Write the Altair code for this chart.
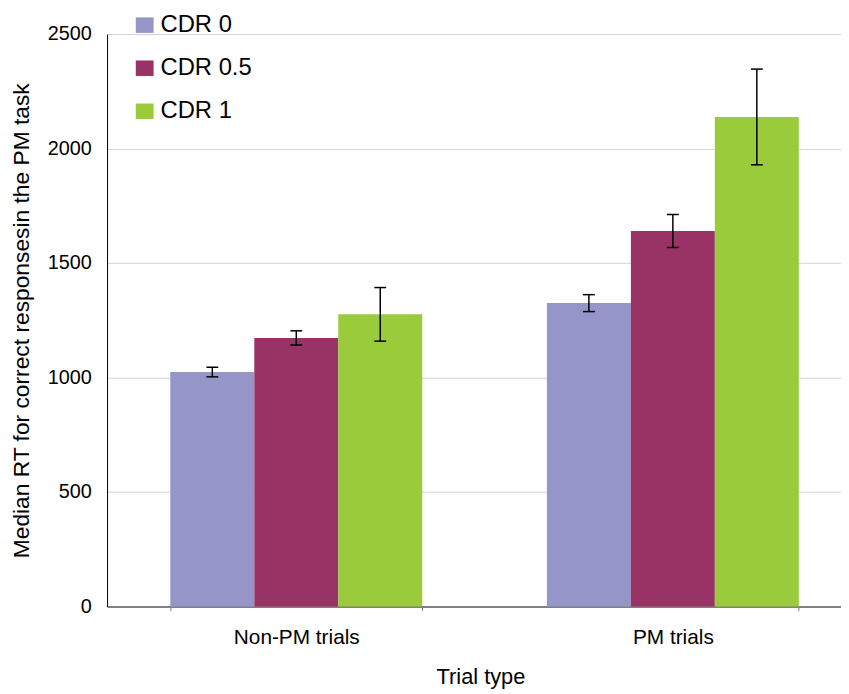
import altair as alt
import pandas as pd

trial_types = ["Non-PM trials", "PM trials"]
groups = ["CDR 0", "CDR 0.5", "CDR 1"]
nonpm_means = [1024, 1173, 1276]
nonpm_errors = [21, 31, 117]
pm_means = [1325, 1640, 2138]
pm_errors = [37, 72, 209]
colors = ["#9595c8", "#993366", "#99cb3b"]
y_ticks = [0, 500, 1000, 1500, 2000, 2500]

rows = []
for t, means, errs in [(trial_types[0], nonpm_means, nonpm_errors),
                       (trial_types[1], pm_means, pm_errors)]:
    for g, m, e in zip(groups, means, errs):
        rows.append({"trial": t, "group": g, "rt": m, "lo": m - e, "hi": m + e})
df = pd.DataFrame(rows)

FONT = "Liberation Sans"
W, H = 741, 578

x_enc = alt.X(
    "trial:N", sort=trial_types,
    scale=alt.Scale(paddingInner=0.331, paddingOuter=0.14, align=0.6),
    axis=alt.Axis(title="Trial type", labelAngle=0, ticks=True, tickBand="extent",
                  tickSize=4, tickColor="#808080", tickWidth=1,
                  labelFontSize=21, labelPadding=16, labelFont=FONT, labelColor="black",
                  titleFontSize=22, titleFont=FONT, titleFontWeight="normal", titleColor="black",
                  titleX=377, titleY=71, titleBaseline="middle", titleAlign="center",
                  domainColor="#808080", domainWidth=2, grid=False),
)
xoff = alt.XOffset("group:N", sort=groups, scale=alt.Scale(paddingInner=0, paddingOuter=0))
y_scale = alt.Scale(domain=[0, 2500], nice=False)

base = alt.Chart(df)

bars = base.mark_bar(opacity=1).encode(
    x=x_enc,
    xOffset=xoff,
    y=alt.Y("rt:Q", scale=y_scale,
            axis=alt.Axis(title="Median RT for correct responsesin the PM task",
                          values=y_ticks, format="d", ticks=False, labelPadding=16,
                          labelFontSize=20, labelFont=FONT, labelColor="black",
                          titleFontSize=23, titleFont=FONT, titleFontWeight="normal",
                          titleColor="black", titleAngle=-90, titleX=-86, titleY=H / 2,
                          titleAlign="center", titleBaseline="middle",
                          domainColor="black", domainWidth=1,
                          grid=True, gridColor="#d4d4d4", gridWidth=1)),
    color=alt.Color("group:N", sort=groups,
                    scale=alt.Scale(domain=groups, range=colors),
                    legend=alt.Legend(orient="none", legendX=26, legendY=-21, title=None,
                                      labelFontSize=24, labelFont=FONT, labelColor="black",
                                      symbolType="M-1,-0.87L1,-0.87L1,0.87L-1,0.87Z",
                                      symbolSize=324, symbolStrokeWidth=0, symbolOpacity=1,
                                      rowPadding=19.5, labelOffset=4)),
)

err = base.mark_rule(color="black", strokeWidth=1.5).encode(
    x=alt.X("trial:N", sort=trial_types), xOffset=xoff,
    y="lo:Q", y2="hi:Q",
)
cap_hi = base.mark_tick(color="black", thickness=1.5, size=12, opacity=1).encode(
    x=alt.X("trial:N", sort=trial_types), xOffset=xoff, y="hi:Q",
)
cap_lo = base.mark_tick(color="black", thickness=1.5, size=12, opacity=1).encode(
    x=alt.X("trial:N", sort=trial_types), xOffset=xoff, y="lo:Q",
)

chart = alt.layer(bars, err, cap_hi, cap_lo).properties(
    width=W, height=H,
    autosize=alt.AutoSizeParams(type="none"),
    padding={"left": 100, "top": 23, "right": 0, "bottom": 85},
).configure_view(stroke=None).configure(background="white")

chart.save("out.html", embed_options={"renderer": "svg", "actions": False})
